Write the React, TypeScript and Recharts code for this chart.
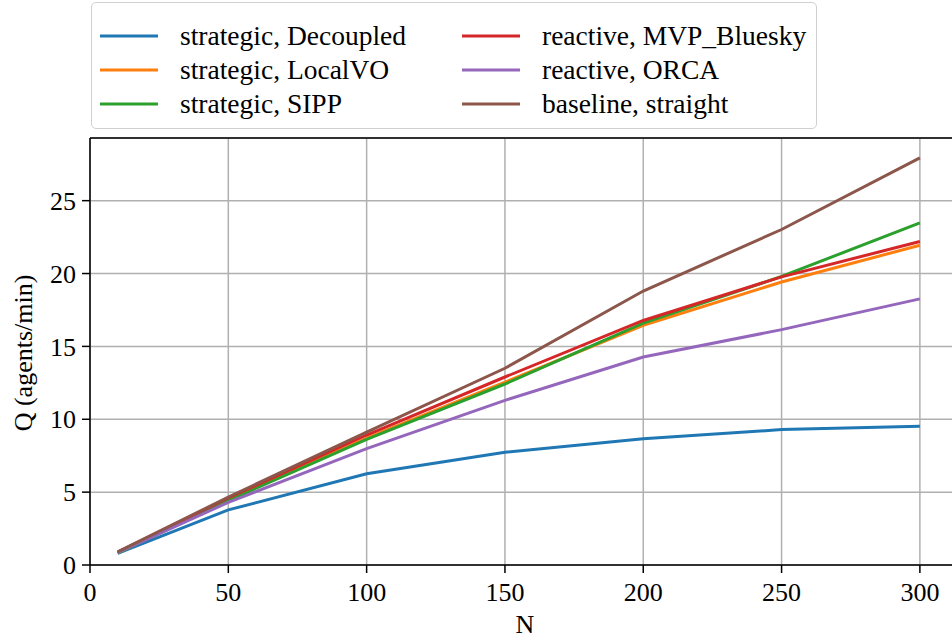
import { LineChart, Line, XAxis, YAxis, CartesianGrid, ReferenceLine, Label } from "recharts";

const FONT = "'Liberation Serif', 'Times New Roman', serif";

const nValues = [10, 50, 100, 150, 200, 250, 300];
const decoupled = [0.8, 3.78, 6.26, 7.74, 8.67, 9.29, 9.52];
const localVO = [0.85, 4.5, 8.7, 12.55, 16.45, 19.42, 21.94];
const sipp = [0.82, 4.42, 8.62, 12.42, 16.6, 19.8, 23.48];
const mvpBluesky = [0.88, 4.6, 8.92, 12.9, 16.78, 19.77, 22.2];
const orca = [0.85, 4.3, 7.98, 11.3, 14.27, 16.15, 18.26];
const straight = [0.9, 4.66, 9.12, 13.5, 18.8, 23.02, 27.94];

const xTicks = [0, 50, 100, 150, 200, 250, 300];
const yTicks = [0, 5, 10, 15, 20, 25];

const series = [
  { key: "decoupled", name: "strategic, Decoupled", color: "#1f77b4", values: decoupled },
  { key: "localVO", name: "strategic, LocalVO", color: "#ff7f0e", values: localVO },
  { key: "sipp", name: "strategic, SIPP", color: "#2ca02c", values: sipp },
  { key: "mvp", name: "reactive, MVP_Bluesky", color: "#d62728", values: mvpBluesky },
  { key: "orca", name: "reactive, ORCA", color: "#9467bd", values: orca },
  { key: "straight", name: "baseline, straight", color: "#8c564b", values: straight },
];

const data = nValues.map((n, i) => {
  const row: Record<string, number> = { N: n };
  series.forEach((s) => {
    row[s.key] = s.values[i];
  });
  return row;
});

// matplotlib-style legend box, laid over the top of the figure
const LegendBox = () => (
  <div
    style={{
      position: "absolute",
      left: 91,
      top: 2,
      width: 726,
      height: 127,
      boxSizing: "border-box",
      border: "1.5px solid #d0d0d0",
      borderRadius: 5,
      background: "#fff",
      fontFamily: FONT,
      fontSize: 27.5,
      color: "#000",
    }}
  >
    {series.map((s, i) => {
      const col = Math.floor(i / 3);
      const row = i % 3;
      return (
        <div
          key={s.key}
          style={{
            position: "absolute",
            left: col === 0 ? 8 : 370,
            top: 16 + row * 34,
            height: 34,
            display: "flex",
            alignItems: "center",
            whiteSpace: "nowrap",
          }}
        >
          <svg width={58} height={6} style={{ marginRight: 22 }}>
            <line x1={0} y1={3} x2={58} y2={3} stroke={s.color} strokeWidth={3} />
          </svg>
          <span style={{ fontFamily: FONT }}>{s.name}</span>
        </div>
      );
    })}
  </div>
);

const YLabel = () => (
  <text
    x={32}
    y={353}
    transform="rotate(-90 32 353)"
    textAnchor="middle"
    fontFamily={FONT}
    fontSize={26}
    fill="#000"
  >
    Q (agents/min)
  </text>
);

export default function App() {
  const tickStyle = { fill: "#000", fontSize: 26, fontFamily: FONT };
  return (
    <div style={{ position: "absolute", left: 0, top: 0, width: 952, height: 639, overflow: "hidden", background: "#fff" }}>
      <LineChart width={970} height={639} data={data} margin={{ top: 138, right: 10, bottom: 0, left: 0 }}>
        <CartesianGrid stroke="#b0b0b0" strokeWidth={1.5} />
        <XAxis
          dataKey="N"
          type="number"
          domain={[0, 314.5]}
          ticks={xTicks}
          allowDataOverflow
          height={74}
          tick={tickStyle}
          tickSize={8}
          tickMargin={10}
          axisLine={{ stroke: "#000", strokeWidth: 1.5 }}
          tickLine={{ stroke: "#000", strokeWidth: 1.5 }}
        >
          <Label value="N" position="insideBottom" offset={6} style={{ fontFamily: FONT, fontSize: 26, fill: "#000" }} />
        </XAxis>
        <YAxis
          type="number"
          domain={[0, 29.3]}
          ticks={yTicks}
          allowDataOverflow
          width={90}
          tick={tickStyle}
          tickSize={8}
          tickMargin={6}
          axisLine={{ stroke: "#000", strokeWidth: 1.5 }}
          tickLine={{ stroke: "#000", strokeWidth: 1.5 }}
        >
          <Label content={<YLabel />} />
        </YAxis>
        <ReferenceLine y={29.3} stroke="#000" strokeWidth={1.5} />
        <ReferenceLine x={314.5} stroke="#000" strokeWidth={1.5} />
        {series.map((s) => (
          <Line
            key={s.key}
            type="linear"
            dataKey={s.key}
            name={s.name}
            stroke={s.color}
            strokeWidth={3}
            dot={false}
            isAnimationActive={false}
          />
        ))}
      </LineChart>
      <LegendBox />
    </div>
  );
}
